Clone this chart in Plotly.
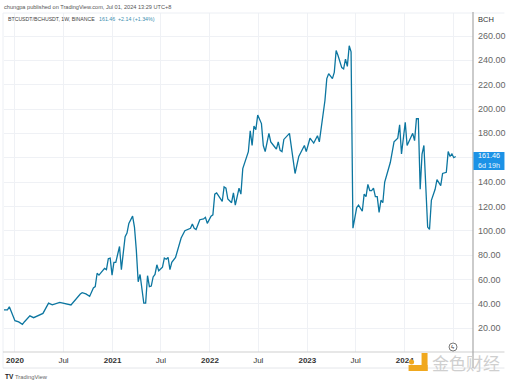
import pandas as pd
import plotly.graph_objects as go

# Weekly ratio, weeks counted from the first week of 2020
weeks = [-6,-4,-3,-2,0,2,4,5,8,10,12,15,18,20,24,27,30,35,36,38,40,42,43,44,45,48,49,50,51,52,53,54,56,57,59,60,61,63,64,65,66,67,68,69,70,71,72,73,74,75,76,77,79,80,81,82,83,84,86,88,89,91,94,95,96,97,99,101,102,103,105,106,107,108,111,112,113,114,116,117,118,120,121,122,125,126,127,128,129,130,132,133,134,136,137,139,140,141,142,143,144,147,150,152,155,156,158,160,162,163,164,165,166,167,168,170,171,172,173,175,176,177,178,179,180,181,183,184,186,187,188,189,190,191,192,193,194,195,196,197,198,201,202,203,205,206,207,209,210,213,214,215,216,217,218,219,221,222,223,225,226,228,229,231,232,233,234,235,236]
ratio = [35,35,37.5,34,26,25,23,25,30,28.5,30,32,40.5,39,41,39.7,39,48,49,48,46,53,54,65,63.5,69,68,77,77.5,63.5,74,74,87,68,95,98,106,112,103,84,58,64,50,40.5,40.5,63,54,54.5,62,64,72,67,70,77.5,76.5,78,68,74,78,90,94,100,102,105.5,102,101,109,109.6,111,106,112,113,130,131,124,136,135,126,123,131,121,135,130,151,165,182,170,186,183,195,188,170,165,180,173,169,167,173,166,165,175,180,147,161,170,165,176,172,178,173,183,197,207,225,229,225,230,248,244,234,233,241,235,252,247,102,119,121,116,130,128,138,133,133,135,128,128,115,125,123,140,156,165,173,176,187,163,189,170,180,174,192,192,134,163,170,103,101,125,134,142,137,147,148,165,161,163,160,161]

y_ticks = [20,40,60,80,100,120,140,160,180,200,220,240,260]
# The 160.00 label sits behind the last-price tag in the reference, so it stays blank
y_tick_labels = ["20.00","40.00","60.00","80.00","100.00","120.00","140.00","","180.00","200.00","220.00","240.00","260.00"]
x_tick_dates = ["2020-01-01","2020-07-01","2021-01-01","2021-07-01","2022-01-01","2022-07-01","2023-01-01","2023-07-01","2024-01-01","2024-07-01"]
x_tick_labels = ["<b>2020</b>","Jul","<b>2021</b>","Jul","<b>2022</b>","Jul","<b>2023</b>","Jul","<b>2024</b>",""]

W, H = 510, 382
L, R, T, B = 4, 473.5, 13, 352
FONT = "Liberation Sans"
def px(x): return (x - L) / (R - L)
def py(y): return (B - y) / (B - T)

dates = [pd.Timestamp("2020-01-01") + pd.Timedelta(days=7 * w) for w in weeks]

fig = go.Figure(go.Scatter(x=dates, y=ratio, mode="lines",
                           line=dict(color="#0c76a0", width=1.3), hoverinfo="skip"))

def text(x, y, s, size=6.5, color="#555", anchor="left", font=FONT):
    fig.add_annotation(xref="paper", yref="paper", x=px(x), y=py(y), text=s, showarrow=False,
                       xanchor=anchor, yanchor="middle", align="left", borderpad=0,
                       font=dict(family=font, size=size, color=color))

def line(x0, y0, x1, y1, color, width=1):
    fig.add_shape(type="line", xref="paper", yref="paper", x0=px(x0), y0=py(y0), x1=px(x1), y1=py(y1),
                  line=dict(color=color, width=width), layer="above")

def rect(x0, y0, x1, y1, color):
    fig.add_shape(type="rect", xref="paper", yref="paper", x0=px(x0), y0=py(y0), x1=px(x1), y1=py(y1),
                  fillcolor=color, line=dict(width=0), layer="above")

# frame
line(3, 13, 505, 13, "#eceff4")
line(3, 13, 3, 368, "#eceff4")
line(3, 368, 505, 368, "#e4e6ea")
line(3, 352, 505, 352, "#cfcfcf")
line(473.5, 12, 473.5, 368, "#a8a8a8", 1.2)

# header and footer text
text(3, 7, "chungpa published on TradingView.com, Jul 01, 2024 13:29 UTC+8", 5.6, "#555")
text(7, 19, "BTCUSDT/BCHUSDT, 1W, BINANCE", 5.2, "#444")
text(98, 19, "161.46", 5.3, "#3d8fb0")
text(117, 19, "+2.14 (+1.34%)", 5.3, "#3d8fb0")
text(478, 19.5, "BCH", 7.5, "#333")
text(14, 377, "TradingView", 5.8, "#666")
text(3.5, 376.5, "<b>TV</b>", 6.5, "#222")

# last price label
rect(474, 152, 505, 170, "#1c92e6")
text(489.5, 156, "161.46", 7.2, "#ffffff", "center")
text(489.5, 165.5, "6d 19h", 7.2, "#e6f4ff", "center")

# event marker
fig.add_shape(type="circle", xref="paper", yref="paper", x0=px(449.5), y0=py(343), x1=px(457.5), y1=py(351),
              line=dict(color="#555", width=0.8), fillcolor="#ffffff", layer="above")
text(453.5, 347, "ϟ", 6, "#333", "center")

# watermark
rect(422, 353, 428, 371, "#f0a81e")
rect(409, 365, 428, 371, "#f0a81e")
fig.add_shape(type="circle", xref="paper", yref="paper", x0=px(409.5), y0=py(359.5), x1=px(414.5), y1=py(364.5),
              line=dict(width=0), fillcolor="#f0a81e", layer="above")
text(466, 362, "金色财经", 17, "#cfcfcf", "center", "Noto Sans CJK SC")

fig.update_layout(
    width=W, height=H, autosize=False,
    margin=dict(l=L, r=W - R, t=T, b=H - B, pad=0),
    paper_bgcolor="#ffffff", plot_bgcolor="#ffffff", showlegend=False,
    font=dict(family=FONT, size=8, color="#555"),
    xaxis=dict(range=["2019-11-21", "2024-09-13"], tickmode="array", tickvals=x_tick_dates,
               ticktext=x_tick_labels, tickangle=0, showgrid=True, gridcolor="#eff1f5", gridwidth=1,
               zeroline=False, showline=False, ticks="", ticklabelstandoff=2,
               tickfont=dict(family=FONT, size=8, color="#333")),
    yaxis=dict(range=[0.3, 278.9], side="right", tickmode="array", tickvals=y_ticks, ticktext=y_tick_labels,
               showgrid=True, gridcolor="#eff1f5", gridwidth=1, zeroline=False, showline=False, ticks="",
               ticklabelstandoff=4, tickfont=dict(family=FONT, size=9, color="#666")),
)

fig.write_html("out.html", config=dict(displayModeBar=False),
               post_script="document.body.style.margin='0';document.documentElement.style.overflow='hidden';")
